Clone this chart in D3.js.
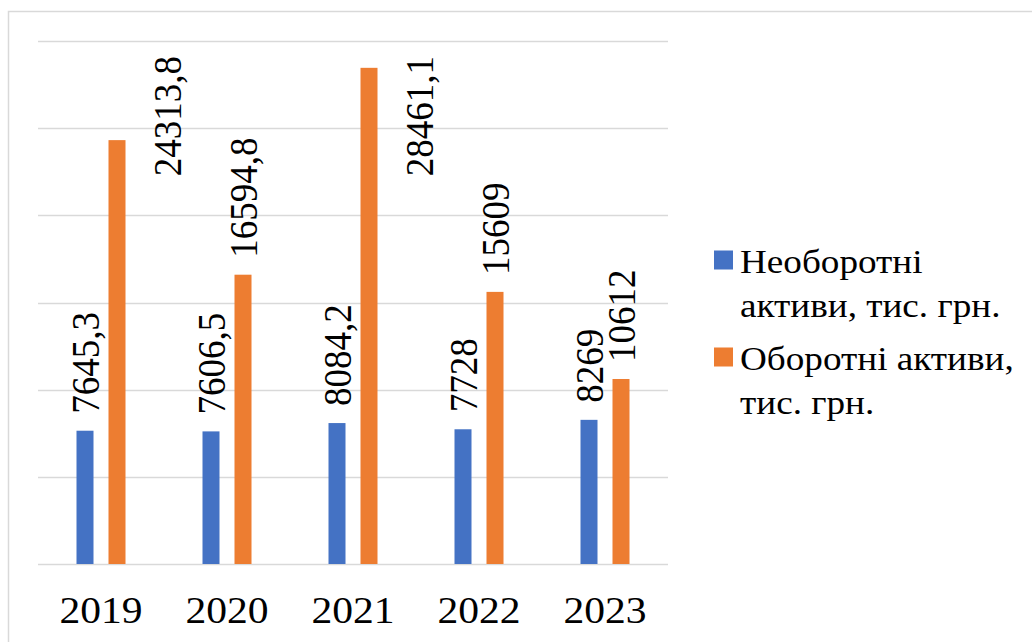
<!DOCTYPE html>
<html>
<head>
<meta charset="utf-8">
<script src="https://cdn.jsdelivr.net/npm/d3@7"></script>
<style>
  html, body { margin: 0; padding: 0; background: #fff; }
  svg { display: block; }
  text { font-family: "Liberation Serif", "Times New Roman", serif; fill: #000; }
</style>
</head>
<body>
<svg id="chart" width="1032" height="642"></svg>
<script>
const categories = ["2019", "2020", "2021", "2022", "2023"];
const seriesNames = ["Необоротні активи, тис. грн.", "Оборотні активи, тис. грн."];
const seriesLegendLines = [["Необоротні", "активи, тис. грн."], ["Оборотні активи,", "тис. грн."]];
const nonCurrent = [7645.3, 7606.5, 8084.2, 7728, 8269];
const current = [24313.8, 16594.8, 28461.1, 15609, 10612];
const labelText = [["7645,3", "7606,5", "8084,2", "7728", "8269"],
                   ["24313,8", "16594,8", "28461,1", "15609", "10612"]];
const yTicks = [0, 5000, 10000, 15000, 20000, 25000, 30000];
const colors = ["#4472C4", "#ED7D31"];

const FONT = "Liberation Serif, Times New Roman, serif";
const svg = d3.select("#chart");
const SX = 1.09; // horizontal stretch of the reference's text

// frame
svg.append("rect").attr("x", 8.5).attr("y", 11.5).attr("width", 1030).attr("height", 640)
  .attr("fill", "none").attr("stroke", "#d9d9d9").attr("stroke-width", 1.5);

const plot = { left: 38, right: 668, top: 41, bottom: 564 };
const x0 = d3.scaleBand().domain(categories).range([plot.left, plot.right]).paddingInner(0).paddingOuter(0);
const groupW = 49;
const x1 = d3.scaleBand().domain([0, 1]).range([0, groupW]).paddingInner(2 - groupW / 32).paddingOuter(0);
const y = d3.scaleLinear().domain([0, 30000]).range([plot.bottom, plot.top]);

// gridlines
svg.append("g").selectAll("line").data(yTicks).join("line")
  .attr("x1", plot.left).attr("x2", plot.right)
  .attr("y1", d => Math.round(y(d)) + 0.5).attr("y2", d => Math.round(y(d)) + 0.5)
  .attr("stroke", "#d9d9d9").attr("stroke-width", 1.4);

const series = [nonCurrent, current];
const groupOff = (x0.bandwidth() - groupW) / 2;

series.forEach((vals, si) => {
  svg.append("g").selectAll("rect").data(vals).join("rect")
    .attr("x", (d, i) => x0(categories[i]) + groupOff + x1(si))
    .attr("width", x1.bandwidth())
    .attr("y", d => y(d))
    .attr("height", d => y(0) - y(d))
    .attr("fill", colors[si]);
});

// data labels
const labelSize = 37;
series.forEach((vals, si) => {
  vals.forEach((v, i) => {
    const cx = x0(categories[i]) + groupOff + x1(si) + x1.bandwidth() / 2;
    const g = svg.append("g");
    const t = g.append("text")
      .attr("font-family", FONT)
      .attr("font-size", labelSize)
      .attr("dy", "0.34em")
      .attr("transform", "rotate(-90)")
      .text(labelText[si][i]);
    const len = t.node().getComputedTextLength();
    let startY = y(v) - 17;
    let lx = cx;
    if (startY - len < plot.top + 14) {
      lx = cx + 50;
      startY = 56 + len;
    }
    g.attr("transform", `translate(${lx},${startY}) scale(${SX},1)`);
  });
});

// x axis labels
const xAxis = d3.axisBottom(x0).tickSize(0).tickPadding(0);
const ax = svg.append("g").attr("transform", `translate(0,${plot.bottom})`).call(xAxis);
ax.select(".domain").remove();
ax.selectAll("text")
  .attr("font-family", FONT)
  .attr("font-size", 38.5)
  .attr("fill", "#000")
  .attr("y", 58.7).attr("dy", 0)
  .attr("transform", `scale(1.08,1)`);

// legend
const legendX = 714, legendTextX = 740;
const entryTops = [273, 370];
seriesNames.forEach((name, si) => {
  const g = svg.append("g");
  g.append("rect").attr("x", legendX).attr("y", entryTops[si] - 22.5).attr("width", 19).attr("height", 19)
    .attr("fill", colors[si]);
  seriesLegendLines[si].forEach((line, li) => {
    svg.append("g").attr("transform", `translate(${legendTextX},${entryTops[si] + li * 43.5}) scale(1.12,1)`)
      .append("text").attr("font-family", FONT).attr("font-size", 33.2).text(line);
  });
});
</script>
</body>
</html>
